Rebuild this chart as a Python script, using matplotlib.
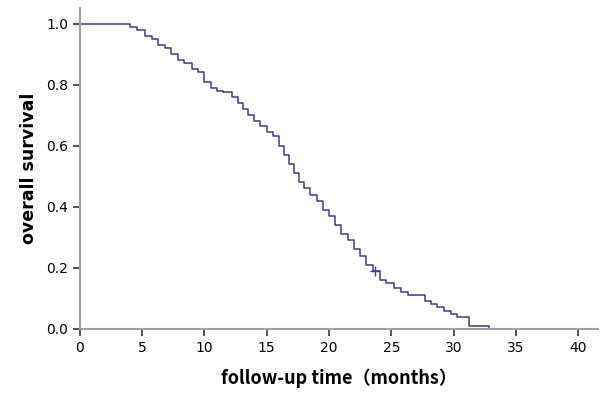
import numpy as np
import matplotlib.pyplot as plt

# step points (months, survival)
times = [0, 4.0, 4.6, 5.2, 5.8, 6.3, 6.8, 7.3, 7.9, 8.4, 9.0, 9.5, 10.0, 10.5, 11.0,
         11.5, 12.2, 12.7, 13.1, 13.5, 14.0, 14.5, 15.0, 15.5, 16.0, 16.4, 16.8, 17.2,
         17.6, 18.0, 18.5, 19.0, 19.5, 20.0, 20.5, 21.0, 21.5, 22.0, 22.5, 23.0, 23.5,
         24.1, 24.6, 25.2, 25.8, 26.3, 27.7, 28.2, 28.7, 29.2, 29.8, 30.3, 31.2, 32.8]
surv = [1.0, 0.99, 0.98, 0.96, 0.95, 0.93, 0.92, 0.90, 0.88, 0.87, 0.85, 0.84, 0.81, 0.79,
        0.78, 0.775, 0.76, 0.74, 0.72, 0.70, 0.68, 0.665, 0.645, 0.63, 0.60, 0.57, 0.54,
        0.51, 0.48, 0.46, 0.44, 0.42, 0.39, 0.37, 0.34, 0.31, 0.29, 0.26, 0.24, 0.21,
        0.19, 0.16, 0.15, 0.135, 0.12, 0.11, 0.09, 0.08, 0.07, 0.06, 0.05, 0.04, 0.01, 0.0]
censor_t = [23.7]
censor_s = [0.19]
xticks = [0, 5, 10, 15, 20, 25, 30, 35, 40]
yticks = [0.0, 0.2, 0.4, 0.6, 0.8, 1.0]

fig = plt.figure(figsize=(6, 4.03), dpi=100)
ax = fig.add_axes([0.133, 0.184, 0.864, 0.797])
ax.step(times, surv, where="post", color="#3b3b86", lw=1.1)
ax.plot(censor_t, censor_s, marker="+", color="#3b3b86", ms=7, lw=0)

ax.set_xlim(0, 41.6)
ax.set_ylim(0, 1.052)
ax.set_xticks(xticks)
ax.set_yticks(yticks)
ax.set_yticklabels([f"{v:.1f}" for v in yticks])
for s in ["top", "right"]:
    ax.spines[s].set_visible(False)
for s in ["left", "bottom"]:
    ax.spines[s].set_color("#a0a0a0")
    ax.spines[s].set_linewidth(1.5)
ax.tick_params(direction="out", length=5, width=1.3, color="#444444", labelsize=10)
ax.set_xlabel("follow-up time（months）", fontsize=13, fontweight="bold",
              family=["Noto Sans CJK SC", "DejaVu Sans"], labelpad=10)
ax.set_ylabel("overall survival", fontsize=12.5, fontweight="bold", labelpad=6)

fig.savefig("out.png")
